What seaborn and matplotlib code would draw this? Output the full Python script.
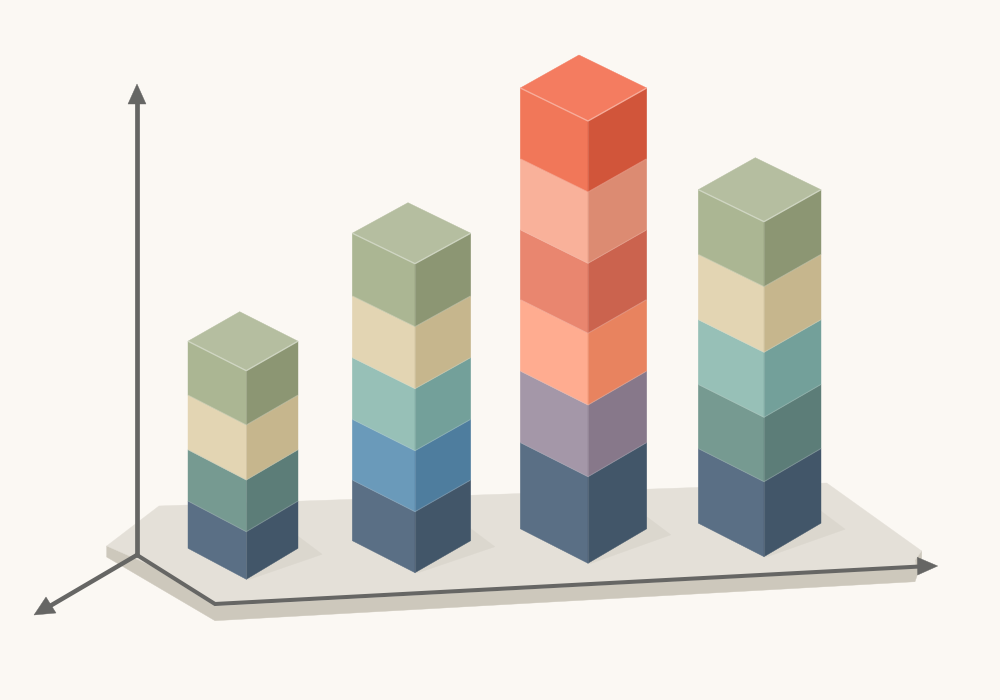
import matplotlib
matplotlib.use("Agg")
import matplotlib.pyplot as plt
import numpy as np
import seaborn as sns

# ---------- values (bottom block first) ----------
bar1_heights = [47.6, 51.7, 55.0, 54.3]
bar2_heights = [61.0, 61.0, 62.0, 62.0, 63.0]
bar3_heights = [86.6, 71.7, 71.7, 70.0, 71.3, 71.0]
bar4_heights = [75.0, 64.4, 65.0, 65.6, 65.0]

bar1_blocks = ["navy", "teal", "beige", "sage"]
bar2_blocks = ["navy", "blue", "mint", "beige", "sage"]
bar3_blocks = ["navy", "purple", "peach", "coral", "salmon", "red"]
bar4_blocks = ["navy", "teal", "mint", "beige", "sage"]

# ---------- layout ----------
# front bottom corner x, y, then half widths to the left / right and the drop
footprints = [
    (246.3, 579.3, 58.3, 51.7, 31.0),
    (415.0, 572.7, 62.7, 55.7, 32.0),
    (588.0, 563.3, 67.7, 58.7, 34.5),
    (764.0, 556.7, 65.7, 57.0, 33.5),
]
TOP_DROP_LOSS = 1.5  # the drop shrinks a little towards the top of a bar

# left face, right face
block_colors = {
    "navy": ("#5A6F85", "#425669"),
    "teal": ("#769A91", "#5C7D78"),
    "blue": ("#6A9ABA", "#4E7D9E"),
    "mint": ("#97C0B7", "#73A09A"),
    "beige": ("#E3D5B3", "#C6B68D"),
    "sage": ("#ABB693", "#8C9673"),
    "purple": ("#A497A8", "#87788A"),
    "peach": ("#FFAC90", "#E8835F"),
    "coral": ("#E9866F", "#CB634E"),
    "salmon": ("#F9B19A", "#DC8B72"),
    "red": ("#F17759", "#D1553A"),
}
top_colors = {"sage": "#B5BEA0", "red": "#F47C60"}

BG = "#FBF8F3"
AXIS = "#666664"

sns.set_theme(style="white")
fig = plt.figure(figsize=(10, 7), dpi=100, facecolor=BG)
ax = fig.add_axes([0, 0, 1, 1])
ax.set_xlim(0, 1000)
ax.set_ylim(700, 0)
ax.set_facecolor(BG)
ax.axis("off")


def face(points, color, z=3):
    xs, ys = zip(*points)
    ax.fill(xs, ys, facecolor=color, edgecolor=color, linewidth=0.3, zorder=z)


def edge(points, color, lw=0.8, alpha=0.3, z=4):
    xs, ys = zip(*points)
    ax.plot(xs, ys, color=color, lw=lw, alpha=alpha, zorder=z, solid_capstyle="butt")


def draw_bar(foot, heights, blocks):
    fx, fy, dl, dr, drop = foot
    total = sum(heights)

    # cast shadow on the platform
    shadow = [
        (fx + dr, fy - drop - 12),
        (fx + dr + 24, fy - drop + 6),
        (fx + 3, fy),
        (fx, fy),
    ]
    face(shadow, "#DBD7CE", z=2)

    y = fy
    d0 = drop
    for h, name in zip(heights, blocks):
        left_c, right_c = block_colors[name]
        top_y = y - h
        d1 = drop - TOP_DROP_LOSS * (fy - top_y) / total
        face([(fx, y), (fx - dl, y - d0), (fx - dl, top_y - d1), (fx, top_y)], left_c)
        face([(fx, y), (fx + dr, y - d0), (fx + dr, top_y - d1), (fx, top_y)], right_c)
        # thin light seam along the top of the block and down the front corner
        light = sns.blend_palette([left_c, "#FFFFFF"], 3)[1]
        edge([(fx - dl, top_y - d1), (fx, top_y), (fx + dr, top_y - d1)], light)
        edge([(fx, y), (fx, top_y)], light, alpha=0.2)
        y = top_y
        d0 = d1

    # top face of the last block
    top_c = top_colors[blocks[-1]]
    face([(fx, y), (fx - dl, y - d0), (fx - dl + dr, y - 2 * d0), (fx + dr, y - d0)], top_c)
    edge([(fx - dl, y - d0), (fx, y), (fx + dr, y - d0)],
         sns.blend_palette([top_c, "#FFFFFF"], 3)[1], lw=1.0, alpha=0.6)


# ---------- platform ----------
face([(106.7, 546), (106.7, 557), (215, 620.7), (915, 581.7), (921.7, 562), (921.7, 551)],
     "#CDC8BC", z=1)
face([(106.7, 546), (159, 506), (826.7, 483), (921.7, 551), (915, 560), (916, 568),
      (215, 606), (150, 565)], "#E4E0D8", z=1)

# ---------- axes ----------
origin = (137, 555)
corner = (215, 604)
shafts = [
    ([origin[0], 137], [origin[1], 100], 3.4),
    ([origin[0], 50], [origin[1], 606], 3.2),
    ([origin[0], corner[0], 920], [origin[1], corner[1], 566.5], 2.9),
]
for xs, ys, lw in shafts:
    sns.lineplot(x=xs, y=ys, sort=False, estimator=None, color=AXIS, lw=lw, ax=ax,
                 zorder=5, legend=False, solid_joinstyle="miter")

heads = [
    [(137, 84), (128, 104), (146, 104)],
    [(34, 615), (46, 597), (56, 613)],
    [(937.7, 566), (917.3, 557.3), (917.6, 575)],
]
for head in heads:
    face(head, AXIS, z=6)

# ---------- bars ----------
all_heights = [bar1_heights, bar2_heights, bar3_heights, bar4_heights]
all_blocks = [bar1_blocks, bar2_blocks, bar3_blocks, bar4_blocks]
for foot, heights, blocks in zip(footprints, all_heights, all_blocks):
    draw_bar(foot, heights, blocks)

ax.set_xlim(0, 1000)
ax.set_ylim(700, 0)
fig.savefig("out.png", dpi=100, facecolor=BG)
